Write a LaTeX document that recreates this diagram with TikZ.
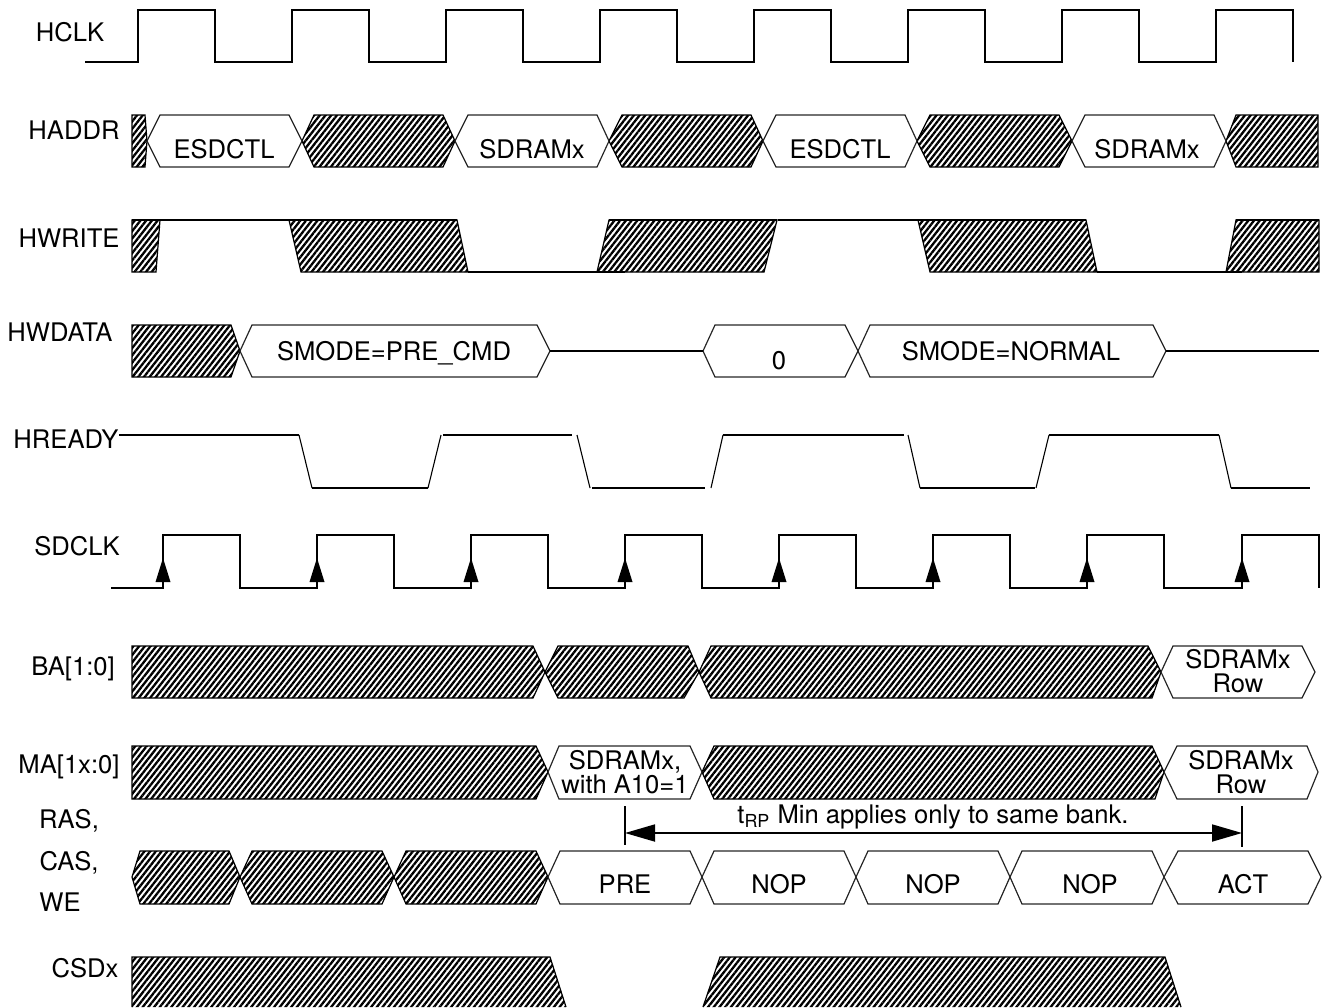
\documentclass[tikz,border=0pt]{standalone}
\usepackage{fontspec}
\setmainfont{TeX Gyre Heros}
\usetikzlibrary{arrows.meta, patterns.meta}
\tikzset{
  sig/.style={line width=0.9pt, line join=miter},
  slant/.style={line width=0.55pt},
  cell/.style={line width=0.6pt, draw=black!85},
  hatch/.style={line width=0.6pt, draw=black,
                pattern={Lines[angle=52, distance=2.25pt, line width=1.15pt]}},
  lbl/.style={anchor=base, font=\fontsize{12.8}{12}\selectfont, inner sep=0pt},
  duo/.style={anchor=center, align=center, font=\fontsize{12.8}{12}\selectfont, inner sep=0pt},
  spanarrow/.style={{Triangle[length=15pt, width=8.5pt]}-{Triangle[length=15pt, width=8.5pt]}, line width=0.9pt}
}
\begin{document}
\begin{tikzpicture}[x=0.5pt, y=-0.5pt]
  \useasboundingbox (0,0) rectangle (1323,1007);
  % signal names
  \foreach \n/\x/\y/\t in {hclk/70/41/HCLK, haddr/74/139/HADDR, hwrite/69/247/HWRITE,
      hwdata/60/341/HWDATA, hready/66/448/HREADY, sdclk/77/555/SDCLK, ba/73/675/BA[1:0],
      ma/69/773/MA[1x:0], ras/69/828/{RAS,}, cas/69/870/{CAS,}, we/60/911/WE, csd/85/977/CSDx}
    \node[lbl] (\n) at (\x,\y) {\t};
  % HCLK
  \draw[sig] (85,62) foreach \x in {138,292,446,600,754,908,1062,1216}
    { -- (\x,62) -- (\x,10) -- ({\x+77},10) -- ({\x+77},62) };
  % HADDR
  \draw[hatch] (132,115) -- (145,115) -- (147,141) -- (145,167) -- (132,167) -- cycle;
  \foreach \a/\b/\c/\d in {302/314/443/455, 609/622/751/763, 917/930/1059/1072}
    \draw[hatch] (\a,141) -- (\b,115) -- (\c,115) -- (\d,141) -- (\c,167) -- (\b,167) -- cycle;
  \draw[hatch] (1226,141) -- (1236,115) -- (1318,115) -- (1318,167) -- (1236,167) -- cycle;
  \foreach \a/\b/\c/\d in {147/160/289/302, 455/468/597/609, 763/776/905/917, 1072/1085/1214/1226}
    \draw[cell] (\a,141) -- (\b,115) -- (\c,115) -- (\d,141) -- (\c,167) -- (\b,167) -- cycle;
  \node[lbl] (esd1) at (224,158) {ESDCTL};
  \node[lbl] (sdr1) at (532,158) {SDRAMx};
  \node[lbl] (esd2) at (840,158) {ESDCTL};
  \node[lbl] (sdr2) at (1147,158) {SDRAMx};
  % HWRITE
  \draw[hatch] (132,220) -- (160,220) -- (156,272) -- (132,272) -- cycle;
  \draw[hatch] (289,220) -- (457,220) -- (468,272) -- (301,272) -- cycle;
  \draw[hatch] (609,220) -- (777,220) -- (764,272) -- (597,272) -- cycle;
  \draw[hatch] (918,220) -- (1086,220) -- (1097,272) -- (930,272) -- cycle;
  \draw[hatch] (1236,220) -- (1319,220) -- (1319,272) -- (1226,272) -- cycle;
  \foreach \a/\b/\y in {132/457/220, 468/625/272, 609/777/220, 778/1086/220, 1097/1242/272, 1236/1319/220}
    \draw[sig] (\a,\y) -- (\b,\y);
  % HWDATA
  \draw[hatch] (132,325) -- (231,325) -- (240,351) -- (231,377) -- (132,377) -- cycle;
  \foreach \a/\b/\c/\d in {240/252/537/550, 703/715/845/858, 858/870/1153/1166}
    \draw[cell] (\a,351) -- (\b,325) -- (\c,325) -- (\d,351) -- (\c,377) -- (\b,377) -- cycle;
  \foreach \a/\b in {550/703, 1166/1319}
    \draw[slant] (\a,351) -- (\b,351);
  \node[lbl] (smpre) at (394,360) {SMODE=PRE\_CMD};
  \node[lbl] (zero) at (779,369) {0};
  \node[lbl] (smnor) at (1011,360) {SMODE=NORMAL};
  % HREADY
  \foreach \a/\b/\y in {119/299/435, 312/428/488, 443/572/435, 592/705/488, 723/904/435,
      920/1035/488, 1049/1219/435, 1231/1310/488}
    \draw[sig] (\a,\y) -- (\b,\y);
  \foreach \a/\b/\c/\d in {299/435/312/488, 428/488/441/435, 577/435/590/488, 711/488/723/435,
      908/435/920/488, 1036/488/1049/435, 1219/435/1231/488}
    \draw[slant] (\a,\b) -- (\c,\d);
  % SDCLK
  \draw[sig] (111,588) foreach \x in {163,317,471,625,779,933,1087}
    { -- (\x,588) -- (\x,535) -- ({\x+77},535) -- ({\x+77},588) } -- (1242,588) -- (1242,535) -- (1319,535) -- (1319,588);
  \foreach \x in {163,317,471,625,779,933,1087,1242}
    \fill ({\x-7.5},582) -- (\x,558) -- ({\x+7.5},582) -- cycle;
  % BA
  \foreach \a/\b/\c/\d/\e in {132/132/533/545/533, 545/558/688/699/684, 699/711/1148/1161/1152}
    \draw[hatch] (\a,672) -- (\b,646) -- (\c,646) -- (\d,672) -- (\e,698) -- (\b,698) -- cycle;
  \draw[cell] (1161,672) -- (1173,646) -- (1302,646) -- (1315,672) -- (1302,698) -- (1173,698) -- cycle;
  \node[duo] (barow) at (1238,671) {SDRAMx\\Row};
  % MA
  \foreach \a/\b/\c/\d/\e in {132/132/536/548/536, 702/714/1152/1164/1155}
    \draw[hatch] (\a,772) -- (\b,746) -- (\c,746) -- (\d,772) -- (\e,799) -- (\b,799) -- cycle;
  \foreach \a/\b/\c/\d in {548/559/690/702, 1164/1177/1307/1318}
    \draw[cell] (\a,772) -- (\b,746) -- (\c,746) -- (\d,772) -- (\c,799) -- (\b,799) -- cycle;
  \node[duo] (maa10) at (625,772) {SDRAMx,\\with A10=1};
  \node[duo] (marow) at (1241,772) {SDRAMx\\Row};
  % RAS, CAS, WE
  \foreach \a/\b/\c/\d in {132/140/229/240, 240/252/382/394, 394/406/536/548}
    \draw[hatch] (\a,877) -- (\b,851) -- (\c,851) -- (\d,877) -- (\c,904) -- (\b,904) -- cycle;
  \foreach \a/\b/\c/\d in {548/560/690/702, 702/714/844/856, 856/868/998/1010, 1010/1022/1152/1164, 1164/1178/1308/1321}
    \draw[cell] (\a,877) -- (\b,851) -- (\c,851) -- (\d,877) -- (\c,904) -- (\b,904) -- cycle;
  \foreach \n/\x/\t in {pre/625/PRE, nop1/779/NOP, nop2/933/NOP, nop3/1090/NOP, act/1243/ACT}
    \node[lbl] (\n) at (\x,893) {\t};
  % tRP span
  \coordinate (rpl) at (625,833);
  \coordinate (rpr) at (1242,833);
  \draw[sig] (625,806) -- (625,845);
  \draw[sig] (1242,806) -- (1242,847);
  \draw[spanarrow] (rpl) -- (rpr);
  \node[lbl] (trp) at (933,823) {t\textsubscript{RP} Min applies only to same bank.};
  % CSDx
  \draw[hatch] (132,1007) -- (132,957) -- (550,957) -- (566,1007);
  \draw[hatch] (703,1007) -- (720,957) -- (1165,957) -- (1181,1007);
\end{tikzpicture}
\end{document}
